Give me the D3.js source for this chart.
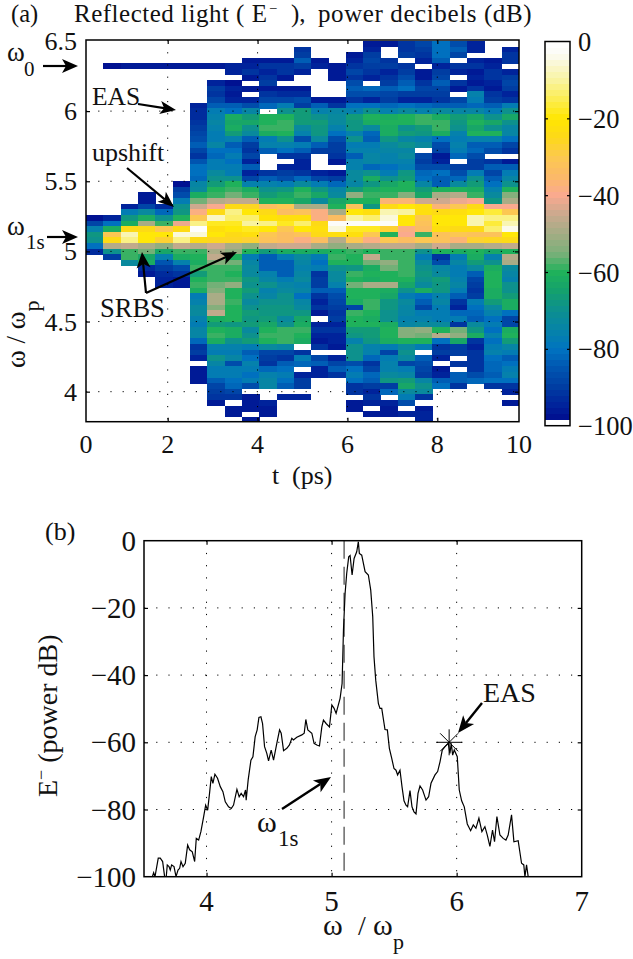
<!DOCTYPE html>
<html><head><meta charset="utf-8">
<script src="https://cdn.jsdelivr.net/npm/d3@7"></script>
<style>
html,body{margin:0;padding:0;background:#fff}
svg{display:block}
text{font-family:"Liberation Serif","Times New Roman",serif;fill:#111}
</style></head><body>
<svg id="fig" width="633" height="959"></svg>
<script>
const _ = null;
// ---- panel (a): time columns and frequency rows ----
const tTicks = [0,2,4,6,8,10];
const wTicks = [4,4.5,5,5.5,6,6.5];
const cbTicks = [0,-20,-40,-60,-80,-100];
const rowCount = 68, rowStep = 0.04, rowTop = 6.5;
const columnStart = [31,31,29,27,29,25,11,7,4,3,3,3,1,3,4,2,0,0,0,0,0,0,0,3,1];
const columnDb = [
/*0*/[-97,-88,-76,-68,-70,-80,-93],
/*1*/[-94,-80,-62,-30,-25,-48,-70,-90],
/*2*/[-95,-78,-68,-62,-24,-9,-12,-46,-58,-58,-72],
/*3*/[-96,-96,-88,-72,-62,-50,-24,-20,-20,-50,-56,-64,-62,-93,-96],
/*4*/[-93,-82,-70,-58,-30,-20,-28,-52,-64,-76,-85,-90,-93,-95,-95],
/*5*/[-97,-90,-86,-78,-70,-68,-60,-42,-24,-6,-12,-46,-58,-62,-76,-86,-92,-96,-96],
/*6*/[-95,-93,-93,-92,-90,-88,-87,-84,-88,-91,-85,-81,-80,-82,-74,-72,-62,-56,-44,-38,-30,-12,-1,-6,-24,-48,-58,-60,-62,-58,-66,-60,-58,-62,-78,-76,-72,-72,-76,-78,-74,-74,-82,-92,-90,-94,_,-96,-96,-96],
/*7*/[-95,-90,-92,-88,-84,-78,-76,-74,-76,-78,-78,-74,-80,-82,-78,-78,-72,-70,-66,-60,-58,-48,-40,-24,-7,-18,-22,-20,-26,-44,-50,-46,-54,-58,-58,-58,-56,-54,-50,-50,-54,-46,-62,-66,-60,-58,-62,-76,-78,-70,-74,-78,-78,-84,-88,-90,-92,-96],
/*8*/[-95,-94,_,-97,-95,-96,-94,-84,-80,-62,-64,-62,-66,-76,-84,-80,-78,-80,-78,-78,-70,-60,-58,-56,-46,-24,-11,-14,-18,-20,-24,-26,-50,-52,-60,-56,-58,-60,-58,-52,-60,-60,-58,-60,-60,-60,-68,-62,-62,-70,-76,-78,-74,-86,-78,-78,-80,-82,-88,-92,_,-96,-96],
/*9*/[-96,-95,-92,-96,_,-96,_,-94,-86,-74,-66,-64,-70,-72,-84,-90,-92,-88,-94,-84,-94,-88,-76,-62,-58,-46,-26,-20,-14,-10,-18,-22,-28,-52,-60,-78,-74,-72,-72,-68,-70,-66,-70,-72,-70,-66,-68,-66,-72,-70,-66,-78,-84,-80,-76,-78,-80,-78,-86,_,-96,-96,-96,_,-96],
/*10*/[-96,-92,-95,-92,-90,-96,-92,-88,-82,_,-60,-60,-58,-62,-78,-76,-84,_,_,_,-92,-84,-76,-70,-66,-60,-34,-25,-21,-12,-20,-30,-32,-46,-66,-84,-84,-84,-76,-74,-70,-76,-74,-70,-68,-68,-66,-64,-60,-58,-60,-72,-88,-90,-92,-82,-76,-74,-74,_,_,-94,-96,-96],
/*11*/[-96,-92,-92,-96,_,-96,-93,-88,-78,-70,-60,-58,-58,-60,-70,-76,-80,-92,_,-94,-90,-86,-78,-68,-64,-60,-30,-33,-22,-18,-30,-33,-33,-44,-62,-78,-84,-84,-84,-78,-74,-72,-70,-70,-68,-68,-72,-70,-58,-58,-58,-74,-88,-92,-84,-80,-78,-80,-84,_,-94],
/*12*/[-92,-90,-84,-90,-94,_,_,-96,-93,-86,-90,-66,-66,-66,-72,-76,-86,-78,-84,-92,-94,-94,-92,-82,-72,-60,-58,-64,-50,-32,-22,-14,-20,-32,-38,-44,-62,-72,-74,-76,-74,-72,-76,-74,-80,-74,-72,-68,-64,-62,-58,-60,-62,_,-92,-78,-82,_,-94,-90,-90,_,-94],
/*13*/[-96,-94,_,_,_,_,_,-96,-84,-76,-70,-66,-68,-68,-72,-84,-90,_,_,_,-94,-88,-78,-68,-64,-72,-50,-38,-38,-24,-22,-24,-34,-50,-62,-78,-80,-78,-92,-90,-90,-84,-92,-94,-92,-96,_,-94,-92,-94,-96,-92,_,-88,-84,-94,-94],
/*14*/[-96,-96,-96,_,_,_,-96,-92,-74,-72,-72,-76,-80,-86,-90,-90,-92,-96,_,-96,-90,-82,-74,-72,-64,-60,-50,-34,-2,-6,-22,-48,-52,-60,-58,-60,-70,-72,-72,-76,-84,-86,-88,-90,-92,-90,-94,-92,-94,-94,-96,_,-94,-88,-84,-92],
/*15*/[-96,-94,-92,-88,-92,-86,-84,-86,-92,-80,-76,-66,-68,-68,-76,-70,-78,-76,-84,-76,-76,-72,-72,-74,-66,-52,-60,-32,-20,-10,-3,-18,-22,-31,-50,-58,-60,-60,-68,-58,-60,-56,-60,-60,-62,-88,-58,-60,-60,-66,-68,-76,-70,-70,-70,-86,-80,-78,-80,-92,-92,_,-96,-96],
/*16*/[-96,-94,-90,-88,-90,-92,-94,_,-82,-86,-94,-80,-70,-60,-62,-72,-82,-84,-78,-76,-74,-74,-82,-70,-62,-68,-62,-58,-60,-68,-22,-14,-3,-18,-30,-38,-48,-60,-46,-56,-62,-60,-62,-50,-60,-60,-58,-58,-60,-62,-60,-66,-66,-68,-76,-76,-82,-92,-88,-82,-84,-90,-94,-92,-94,_,-96],
/*17*/[-96,_,_,-92,-90,-94,-92,-90,-84,-88,-90,-82,-76,-62,-60,-62,-62,-68,-72,-74,-76,-76,-80,-78,-70,-64,-60,-58,-36,-24,-8,-5,-3,-28,-60,-30,-46,-58,-58,-52,-56,-60,-60,-50,-62,-64,-68,-68,-70,-70,-62,-60,-60,-62,-78,-88,-78,-76,-76,-72,-68,-90,-82,_,-94,-96,-96],
/*18*/[-92,-92,-90,_,-92,-90,-86,-84,-80,-90,-94,-80,-72,-60,-60,-70,-66,-74,-70,-74,-72,-76,-78,-68,-66,-60,-60,-54,-36,-20,-10,-20,-20,-38,-40,-34,-46,-58,-58,-58,-58,-58,-60,-64,-70,-78,-72,-74,-74,-76,-74,-54,-54,-60,-72,-70,-72,-88,-78,-74,-66,-64,-72,-78,-86,_,-94],
/*19*/[-88,-90,-92,-94,_,-96,-96,-92,-88,-90,-94,-82,-76,-58,-58,-66,-68,-76,-72,_,-88,-90,-86,-82,-80,-74,-66,-64,-44,-22,-22,-30,-32,-34,-58,-30,-50,-70,-78,-72,-70,-68,-70,-72,-62,-80,-84,-88,-78,-76,-72,-52,-56,-60,-78,_,-84,-86,-88,-90,-74,-70,-72,-92,_,-96,-94,-94],
/*20*/[-80,-80,-80,-84,-94,-90,-88,-84,-88,-90,-92,-84,-72,-62,-58,-58,-62,-80,-86,-88,-96,-94,-86,-80,-84,-84,-60,-50,-44,-36,-24,-20,-20,-22,-32,-32,-44,-60,-92,-86,-74,-72,-66,-68,-68,-76,-74,-78,-78,-78,-72,-60,-48,-80,-92,-90,-94,_,-96,-94,-84,-80],
/*21*/[-86,-84,-88,_,-92,-94,_,-92,-96,_,-88,-84,-74,-66,-68,-70,-76,-78,-76,-78,-82,_,-90,-86,-82,-72,-60,-48,-42,-30,-22,-20,-20,-24,-30,-36,-50,-62,-78,-74,-78,-78,-76,-74,-78,-84,-92,-94,-82,-78,-92,-56,-52,-64,-90,-90,_,-92,_,-84,-84,-92],
/*22*/[-94,-94,_,-94,-92,-96,-94,-96,-92,-76,-78,-82,-74,-64,-60,-64,-60,-76,-84,-82,-86,-90,-90,-78,-70,-66,-62,-58,-40,-24,-20,-8,-8,-24,-32,-28,-50,-60,-62,-66,-72,-84,-88,-90,-92,-90,-78,-80,-82,-84,-72,-68,-62,-92,-94,-92,-92,-92,-92,-86,-82],
/*23*/[-96,-94,-92,-92,-94,-96,-92,-90,-84,-78,-70,-64,-70,-60,-76,-84,-86,_,-92,-84,-88,-84,-80,-76,-72,-68,-40,-16,-12,-16,-14,-32,-26,-48,-64,-76,-70,-62,-60,-60,-60,-62,-62,-66,-72,-76,-80,-78,-80,-76,-80,-78,-76,-80,-82,-82,-84,-80,-92],
/*24*/[-94,-92,-92,_,-94,-90,-88,-90,-94,-92,-78,-70,-64,-70,-74,-74,-80,-88,-92,_,-96,-84,-78,-74,-70,-60,-54,-50,-40,-30,-11,-8,-4,-20,-24,-46,-60,-48,-50,-72,-74,-76,-70,-70,-66,-62,-62,-80,-88,-88,-62,-60,-66,-74,-78,-84,-80,-78,-76,-80,-92,-94,_,-96]
];
// thin carrier line at omega_0 in the early columns (row index fixed)
const carrierRow = 4;
const carrierColumns = [1,2,3,4,5,6,7];
const carrierDb = [-97,-96,-96,-96,-96,-96,-96];

// ---- panel (b): spectrum ----
const spectrumOmega = [3.567,3.577,3.588,3.614,3.630,3.649,3.665,3.678,3.686,3.700,3.710,3.721,3.740,3.756,3.772,3.785,3.796,3.812,3.830,3.849,3.865,3.886,3.905,3.918,3.937,3.955,3.977,3.993,4.009,4.024,4.038,4.051,4.067,4.088,4.110,4.131,4.150,4.176,4.198,4.216,4.243,4.261,4.277,4.296,4.312,4.317,4.333,4.355,4.371,4.389,4.405,4.419,4.435,4.448,4.464,4.482,4.496,4.517,4.536,4.562,4.584,4.597,4.616,4.642,4.663,4.682,4.695,4.722,4.762,4.781,4.794,4.810,4.842,4.860,4.882,4.903,4.922,4.935,4.956,4.983,5.002,5.020,5.036,5.068,5.084,5.095,5.108,5.121,5.137,5.148,5.164,5.180,5.201,5.214,5.222,5.241,5.268,5.294,5.313,5.329,5.339,5.353,5.374,5.387,5.401,5.427,5.446,5.462,5.481,5.499,5.515,5.528,5.547,5.563,5.579,5.595,5.608,5.627,5.643,5.659,5.675,5.691,5.707,5.728,5.755,5.776,5.795,5.827,5.848,5.867,5.885,5.907,5.933,5.946,5.957,5.968,5.981,6.005,6.021,6.040,6.061,6.085,6.112,6.133,6.154,6.178,6.202,6.226,6.245,6.266,6.287,6.303,6.322,6.346,6.372,6.394,6.412,6.439,6.458,6.492,6.519,6.537,6.546,6.559,6.572,6.593];
const spectrumDb = [-100,-98.8,-100,-94.5,-94.5,-95.5,-100,-100,-96.5,-97,-98,-96.5,-97,-100,-98,-97.5,-95.5,-97,-96,-90.6,-92,-92.6,-95.5,-88.6,-89.1,-86.6,-82.1,-78.7,-80.2,-75.2,-70.2,-72.2,-69.5,-70.7,-73.2,-74.7,-77.7,-79.2,-79.7,-78.7,-74,-76.2,-75.2,-76.2,-74.2,-77.2,-71.2,-65.3,-64.3,-58.3,-56.3,-52.6,-52.4,-54.4,-61.3,-63.3,-65.5,-62.3,-65.3,-60.3,-56.3,-57.3,-62.5,-61.8,-60.8,-58.8,-59.3,-58.5,-57.8,-57.3,-53.2,-56.3,-57.3,-60.3,-60.8,-61.1,-55.4,-53.4,-54.4,-55.4,-48.9,-49.9,-51.4,-46.9,-42.5,-26.6,-15.7,-9.7,-4.8,-4.4,-10.2,-5.3,-3.3,-0.3,-3.8,-4.3,-9.2,-10.2,-14.7,-22.6,-34.5,-41.5,-48.4,-49.9,-49.9,-56.2,-56.3,-61.8,-64.8,-67.8,-68.3,-69.7,-68.3,-73.2,-77.4,-78.7,-79.2,-74.4,-79.2,-80.7,-81.3,-75.2,-73,-74.2,-77.2,-76.2,-72.2,-69.7,-68.7,-65.8,-62.3,-61.3,-60.3,-63.3,-60.3,-63.8,-62.3,-64.3,-74.2,-77.4,-79.2,-84.3,-86.3,-84.6,-85.6,-82.6,-86.6,-85.1,-87.6,-91,-86.1,-89.6,-82.1,-87.6,-88.6,-89.1,-87.6,-81.6,-89.6,-89.3,-96,-96.5,-100,-96.5,-100,-100];
const omega1s = 5.1;
const easPeak = {w:5.94, db:-60};
const bXTicks = [4,5,6,7];
const bYTicks = [0,-20,-40,-60,-80,-100];

// ---- colour map anchors (dB -> colour) ----
const cmapDb = [-99,-95,-90,-85,-80,-75,-70,-65,-60,-55,-50,-45,-40,-35,-30,-25,-20,-14,-10,-3,0];
const cmapCol = ["#000a8c","#00209a","#003ca2","#0055b0","#0073c0","#0683a8","#0c8f90","#14a06e","#1fb25a","#7cb07a","#a3ad84","#c9a98e","#faa98f","#fbb968","#fcc850","#fdd81a","#ffe600","#fbee60","#f9f3a0","#fbfbf6","#ffffff"];

const minus = d => String(d).replace("-", "\u2212");
const svg = d3.select("#fig");
const colourAt = d3.scaleLinear().domain(cmapDb).range(cmapCol).clamp(true);
const levels = 64;
const palette = d3.range(levels).map(i => i === 0 ? "#ffffff" : colourAt(-100 + (i + 0.5) * 100 / levels));
const colour = d3.scaleQuantize().domain([-100, 0]).range(palette);

// ---------- panel a ----------
const A = {l:86, r:519, t:40, b:421.7};
const xT = d3.scaleLinear().domain([0,2,8,10]).range([86,167.7,437.3,519]);
const yW = d3.scaleLinear().domain([3.786,6.507]).range([A.b, A.t]);
const xCol = d3.scaleBand().domain(d3.range(columnDb.length)).range([A.l, A.r]);
const rowEdge = i => yW(rowTop - rowStep * i);
svg.append("defs").append("clipPath").attr("id","clipA").append("rect")
  .attr("x",A.l).attr("y",A.t).attr("width",A.r-A.l).attr("height",A.b-A.t);
const gA = svg.append("g");
const gCells = gA.append("g").attr("clip-path","url(#clipA)").attr("shape-rendering","crispEdges");
const cells = [];
columnDb.forEach((col,c)=>col.forEach((v,k)=>{ if(v!==null) cells.push({c, r:columnStart[c]+k, v}); }));
carrierColumns.forEach((c,k)=>cells.push({c, r:carrierRow, v:carrierDb[k]}));
gCells.selectAll("rect").data(cells).join("rect")
  .attr("x",d=>xCol(d.c)).attr("width",xCol.bandwidth()+0.3)
  .attr("y",d=>rowEdge(d.r)).attr("height",d=>rowEdge(d.r+1)-rowEdge(d.r)+0.3)
  .attr("fill",d=>colour(d.v));

function gridAndFrame(g, x, y, xs, ys, box){
  g.append("g").selectAll("line").data(xs).join("line")
    .attr("x1",x).attr("x2",x).attr("y1",box.t).attr("y2",box.b)
    .attr("stroke","#000").attr("stroke-width",1).attr("stroke-dasharray","1.2,11");
  g.append("g").selectAll("line").data(ys).join("line")
    .attr("y1",y).attr("y2",y).attr("x1",box.l).attr("x2",box.r)
    .attr("stroke","#000").attr("stroke-width",1).attr("stroke-dasharray","1.2,11");
}
function axes(g, x, y, xs, ys, box){
  const strip = s=>{ s.selectAll(".domain").remove(); s.selectAll(".tick line").attr("stroke","#000").attr("stroke-width",1.2); };
  g.append("g").attr("transform",`translate(0,${box.b})`).call(d3.axisBottom(x).tickValues(xs).tickSize(-4).tickPadding(0).tickFormat(d=>"")).call(strip);
  g.append("g").attr("transform",`translate(0,${box.t})`).call(d3.axisTop(x).tickValues(xs).tickSize(-4).tickFormat(d=>"")).call(strip);
  g.append("g").attr("transform",`translate(${box.l},0)`).call(d3.axisLeft(y).tickValues(ys).tickSize(-4).tickFormat(d=>"")).call(strip);
  g.append("g").attr("transform",`translate(${box.r},0)`).call(d3.axisRight(y).tickValues(ys).tickSize(-4).tickFormat(d=>"")).call(strip);
  g.append("rect").attr("x",box.l).attr("y",box.t).attr("width",box.r-box.l).attr("height",box.b-box.t)
    .attr("fill","none").attr("stroke","#000").attr("stroke-width",1.5);
}
gridAndFrame(gA,xT,yW,[2,4,6,8],[4,4.5,5,5.5,6],A);
axes(gA,xT,yW,[2,4,6,8],[4,4.5,5,5.5,6],A);

function txt(x,y,s,fs,anchor){
  return svg.append("text").attr("x",x).attr("y",y).attr("font-size",fs).attr("text-anchor",anchor||"start").text(s);
}
function arrow(x1,y1,x2,y2,w,hl,hw){
  const a=Math.atan2(y2-y1,x2-x1), c=Math.cos(a), s=Math.sin(a);
  const bx=x2-c*hl*0.75, by=y2-s*hl*0.75;
  svg.append("line").attr("x1",x1).attr("y1",y1).attr("x2",bx).attr("y2",by).attr("stroke","#000").attr("stroke-width",w);
  const p=[[x2,y2],[x2-c*hl-s*hw,y2-s*hl+c*hw],[bx,by],[x2-c*hl+s*hw,y2-s*hl-c*hw]];
  svg.append("polygon").attr("points",p.join(" ")).attr("fill","#000");
}
tTicks.forEach(t=>txt(xT(t),453,t,26,"middle"));
wTicks.forEach(w=>txt(77,yW(w)+9,w,26,"end"));
txt(11,22,"(a)",24.5);
txt(74,22,"Reflected light ( E",25).attr("letter-spacing",0.5);
txt(269,13,"\u2212",14.5);
txt(291,22,"),",25);
txt(318,22,"power decibels (dB)",25).attr("letter-spacing",0.6);
txt(272,484,"t",26);
txt(292,484,"(ps)",26);
// y label
const yl = svg.append("text").attr("transform","translate(25,368) rotate(-90)").attr("font-size",27);
yl.append("tspan").text("\u03c9 / \u03c9");
yl.append("tspan").attr("dy",14).attr("font-size",22).text("p");
// annotations
txt(7,61,"\u03c9",27); txt(24,76,"0",21);
txt(7,235,"\u03c9",27); txt(26,249,"1s",21);
arrow(43,66,78,66,2.2,16,7);
arrow(47,237,78,237,2.2,16,7);
txt(92,105,"EAS",25.5);
arrow(138,104,176,110,2.2,16,6.5);
txt(92,161,"upshift",26);
arrow(127,168,174,207,2.2,16,6.5);
txt(100,317,"SRBS",26.5);
arrow(146,293,142,252,2.2,16,7);
arrow(146,293,237,252,2.2,16,6.5);

// colour bar
const CB = {l:545, r:570, t:41.5, b:425.7};
const yCb = d3.scaleLinear().domain([-100,0]).range([CB.b,CB.t]);
const gCb = svg.append("g");
gCb.append("g").attr("shape-rendering","crispEdges").selectAll("rect").data(palette).join("rect")
  .attr("x",CB.l).attr("width",CB.r-CB.l)
  .attr("y",(d,i)=>yCb(-100+(i+1)*100/levels)).attr("height",100/levels*(CB.b-CB.t)/100+0.4)
  .attr("fill",d=>d);
const cbInner = cbTicks.slice(1,-1);
gCb.append("g").attr("transform",`translate(${CB.l},0)`).call(d3.axisLeft(yCb).tickValues(cbInner).tickSize(-3).tickFormat(d=>""))
  .call(s=>{s.selectAll(".domain").remove();s.selectAll(".tick line").attr("stroke","#000").attr("stroke-width",1.2);});
gCb.append("g").attr("transform",`translate(${CB.r},0)`).call(d3.axisRight(yCb).tickValues(cbInner).tickSize(-3).tickFormat(d=>""))
  .call(s=>{s.selectAll(".domain").remove();s.selectAll(".tick line").attr("stroke","#000").attr("stroke-width",1.2);});
gCb.append("rect").attr("x",CB.l).attr("y",CB.t).attr("width",CB.r-CB.l).attr("height",CB.b-CB.t)
  .attr("fill","none").attr("stroke","#000").attr("stroke-width",1.5);
cbTicks.forEach(d=>txt(578,yCb(d)+9.5,minus(d),26.5));

// ---------- panel b ----------
const B = {l:144, r:581.7, t:540.7, b:876.7};
const xB = d3.scaleLinear().domain([3.5,7]).range([B.l,B.r]);
const yB = d3.scaleLinear().domain([-100,0]).range([B.b,B.t]);
svg.select("defs").append("clipPath").attr("id","clipB").append("rect")
  .attr("x",B.l).attr("y",B.t-1).attr("width",B.r-B.l).attr("height",B.b-B.t+1);
const gB = svg.append("g");
gridAndFrame(gB,xB,yB,[4,5,6],[-20,-40,-60,-80],B);
gB.append("line").attr("x1",xB(omega1s)).attr("x2",xB(omega1s)).attr("y1",B.t).attr("y2",B.b)
  .attr("stroke","#333").attr("stroke-width",1.1).attr("stroke-dasharray","18,8");
const line = d3.line().x(d=>xB(d[0])).y(d=>yB(d[1]));
gB.append("path").attr("clip-path","url(#clipB)").attr("d",line(d3.zip(spectrumOmega,spectrumDb)))
  .attr("fill","none").attr("stroke","#000").attr("stroke-width",1.2);
axes(gB,xB,yB,[4,5,6],[-20,-40,-60,-80],B);
bXTicks.forEach(t=>txt(xB(t),911,t,29,"middle"));
bYTicks.forEach(d=>txt(136,yB(d)+10,minus(d),29,"end"));
// star marker
const sx=xB(easPeak.w), sy=yB(easPeak.db);
[[13,0],[0,13],[9,9],[9,-9]].forEach(([a,b])=>gB.append("line")
  .attr("x1",sx-a).attr("y1",sy-b).attr("x2",sx+a).attr("y2",sy+b).attr("stroke","#000").attr("stroke-width",1));
txt(45,540,"(b)",26);
txt(323,935,"\u03c9",30);
txt(358,935,"/",28);
txt(373,935,"\u03c9",30);
txt(393,949,"p",22);
const ylb = svg.append("text").attr("transform","translate(57,797) rotate(-90)").attr("font-size",28);
ylb.append("tspan").text("E");
ylb.append("tspan").attr("dy",-10).attr("font-size",18).text("\u2212");
ylb.append("tspan").attr("dy",10).text("  (power dB)");
txt(483,702,"EAS",28);
arrow(482,703,458,733,2.4,17,7);
txt(257,832,"\u03c9",30); txt(278,846,"1s",23);
arrow(282,809,331,777,2.4,17,7);
</script>
</body></html>
